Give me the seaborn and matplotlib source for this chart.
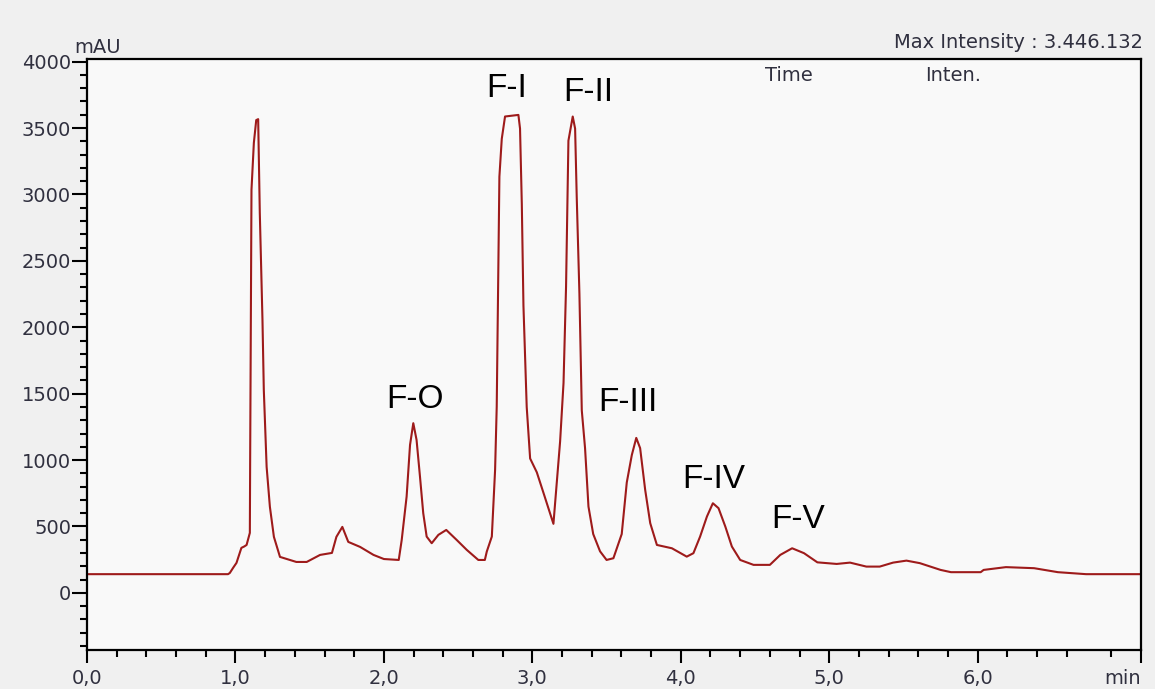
import matplotlib
matplotlib.use("Agg")
import matplotlib.pyplot as plt
import seaborn as sns
import numpy as np
import pandas as pd
from matplotlib.ticker import FixedLocator, MultipleLocator

# ---- data ----
time_min = [0.0, 0.95, 0.962, 0.985, 1.007, 1.04, 1.06, 1.075, 1.097, 1.099, 1.108, 1.124,
            1.14, 1.153, 1.164, 1.182, 1.191, 1.21, 1.232, 1.259, 1.30, 1.41, 1.48, 1.57,
            1.65, 1.68, 1.72, 1.76, 1.84, 1.93, 2.0, 2.10, 2.12, 2.153, 2.176, 2.198, 2.22,
            2.243, 2.265, 2.288, 2.322, 2.367, 2.42, 2.49, 2.558, 2.636, 2.68, 2.693, 2.727,
            2.749, 2.76, 2.778, 2.794, 2.816, 2.906, 2.917, 2.929, 2.94, 2.962, 2.985, 3.03,
            3.075, 3.142, 3.187, 3.21, 3.227, 3.243, 3.272, 3.288, 3.299, 3.317, 3.333, 3.355,
            3.378, 3.41, 3.456, 3.50, 3.546, 3.602, 3.636, 3.67, 3.70, 3.726, 3.76, 3.794,
            3.839, 3.94, 4.04, 4.085, 4.13, 4.176, 4.216, 4.254, 4.30, 4.344, 4.40, 4.49,
            4.60, 4.67, 4.75, 4.83, 4.92, 5.05, 5.14, 5.25, 5.34, 5.43, 5.52, 5.61, 5.75,
            5.82, 6.02, 6.04, 6.19, 6.38, 6.54, 6.73, 7.10]
intensity_mau = [141, 141, 150, 190, 226, 339, 350, 361, 452, 979, 3035, 3389,
                 3560, 3567, 2861, 2056, 1529, 949, 648, 422, 271, 233, 233, 286,
                 301, 422, 497, 384, 346, 286, 255, 248, 399, 725, 1114, 1278, 1152,
                 876, 600, 424, 374, 437, 474, 399, 324, 248, 248, 311, 424,
                 926, 1403, 3134, 3419, 3587, 3599, 3496, 2927, 2163, 1400, 1012, 908,
                 753, 520, 1141, 1581, 2306, 3405, 3587, 3496, 2978, 2254, 1374, 1090,
                 650, 443, 313, 248, 261, 443, 831, 1038, 1167, 1090, 776, 525,
                 361, 336, 273, 299, 424, 575, 675, 638, 499, 349, 248, 211,
                 211, 286, 336, 299, 230, 218, 228, 198, 198, 228, 243, 224, 173,
                 156, 156, 173, 194, 186, 156, 141, 141]

peak_labels = ["F-O", "F-I", "F-II", "F-III", "F-IV", "F-V"]
peak_label_x = [2.21, 2.83, 3.375, 3.643, 4.225, 4.79]
peak_label_y = [1453, 3795, 3765, 1434, 855, 555]

x_major = [0, 1, 2, 3, 4, 5, 6, 7.1]
x_major_labels = ["0,0", "1,0", "2,0", "3,0", "4,0", "5,0", "6,0", "min"]
x_minor = [0.2, 0.4, 0.6, 0.8, 1.2, 1.4, 1.6, 1.8, 2.2, 2.4, 2.6, 2.8, 3.2, 3.4, 3.6, 3.8,
           4.2, 4.4, 4.6, 4.8, 5.2, 5.4, 5.6, 5.8, 6.2, 6.4, 6.6, 6.9]
y_major = [0, 500, 1000, 1500, 2000, 2500, 3000, 3500, 4000]

df = pd.DataFrame({"time": time_min, "intensity": intensity_mau})

sns.set_style("ticks")
plt.rcParams["font.family"] = ["DejaVu Sans"]

fig = plt.figure(figsize=(11.55, 6.89), dpi=100, facecolor="#f0f0f0")
ax = fig.add_axes([87 / 1155, 1 - 650 / 689, (1141 - 87) / 1155, (650 - 59) / 689])
ax.set_facecolor("#f9f9f9")

sns.lineplot(data=df, x="time", y="intensity", ax=ax, color="#9e1b1b",
             linewidth=1.5, estimator=None, sort=False)

ax.set_xlim(0, 7.1)
ax.set_ylim(-430, 4020)
ax.set_xlabel("")
ax.set_ylabel("")

label_color = "#30303f"
ax.xaxis.set_major_locator(FixedLocator(x_major))
ax.set_xticklabels(x_major_labels)
ax.xaxis.set_minor_locator(FixedLocator(x_minor))
ax.yaxis.set_major_locator(FixedLocator(y_major))
ax.set_yticklabels([str(v) for v in y_major])
ax.yaxis.set_minor_locator(MultipleLocator(100))

ax.tick_params(axis="x", which="major", length=9.5, width=1.5, direction="out",
               labelsize=14, labelcolor=label_color, pad=4, color="black")
ax.tick_params(axis="x", which="minor", length=5, width=1.5, direction="out", color="black")
ax.tick_params(axis="y", which="major", length=11, width=1.5, direction="out",
               labelsize=14, labelcolor=label_color, pad=0.5, color="black")
ax.tick_params(axis="y", which="minor", length=5, width=1.5, direction="out", color="black")
ax.get_xticklabels()[-1].set_horizontalalignment("right")

for s in ax.spines.values():
    s.set_visible(True)
    s.set_linewidth(1.6)
    s.set_color("black")

for lab, lx, ly in zip(peak_labels, peak_label_x, peak_label_y):
    ax.text(lx, ly, lab, ha="center", va="center", fontsize=24,
            family=["Liberation Sans"], color="black")

fig.text(74 / 1155, 1 - 53 / 689, "mAU", ha="left", va="baseline", fontsize=14,
         color=label_color)
fig.text(1143 / 1155, 1 - 48 / 689, "Max Intensity : 3.446.132", ha="right",
         va="baseline", fontsize=14, color=label_color)
fig.text(765 / 1155, 1 - 81 / 689, "Time", ha="left", va="baseline", fontsize=14,
         color=label_color)
fig.text(925 / 1155, 1 - 81 / 689, "Inten.", ha="left", va="baseline", fontsize=14,
         color=label_color)

fig.savefig("out.png", dpi=100, facecolor=fig.get_facecolor())
